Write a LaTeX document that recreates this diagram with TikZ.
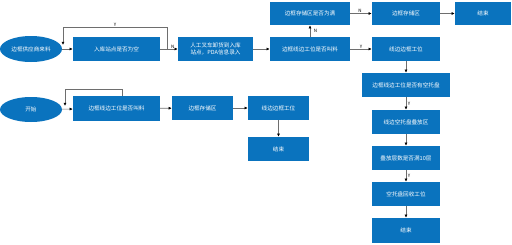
\documentclass[tikz,border=0pt]{standalone}
\usepackage{fontspec}
\setmainfont{Noto Sans CJK SC}
\usetikzlibrary{arrows.meta,shapes.geometric}
\definecolor{boxblue}{RGB}{10,115,190}
\definecolor{linegray}{RGB}{110,110,110}
\tikzset{
  box/.style={fill=boxblue,draw=none,text=white,font=\fontsize{5.6pt}{7pt}\selectfont,
    minimum height=24pt,inner sep=1pt,align=center},
  oval/.style={ellipse,fill=boxblue,draw=none,text=white,font=\fontsize{5.6pt}{7pt}\selectfont,
    minimum width=62pt,minimum height=26pt,inner sep=0pt},
  conn/.style={draw=linegray,line width=0.6pt,-{Latex[length=3.2pt,width=3pt,black]}},
  plain/.style={draw=linegray,line width=0.6pt},
  lbl/.style={font=\fontsize{4.5pt}{5pt}\selectfont,text=black,inner sep=0.5pt}
}
\begin{document}
\begin{tikzpicture}[x=1pt,y=-1pt]
\useasboundingbox (0,0) rectangle (512,244);
% row 1
\node[oval] (sup) at (31,49) {边框供应商来料};
\node[box,minimum width=87pt] (empty) at (116.5,49) {入库站点是否为空};
\node[box,minimum width=75pt] (unload) at (215.5,49) {人工叉车卸货到入库\\站点，PDA信息录入};
\node[box,minimum width=80pt] (call1) at (310,49) {边框线边工位是否叫料};
\node[box,minimum width=80pt,minimum height=23pt] (full) at (310,13.5) {边框存储区是否为满};
\node[box,minimum width=68pt,minimum height=23pt] (store1) at (406,13.5) {边框存储区};
\node[box,minimum width=56pt,minimum height=23pt] (end1) at (483,13.5) {结束};
\node[box,minimum width=68pt] (line1) at (406,49) {线边边框工位};
\node[box,minimum width=88pt] (pallet) at (406,85) {边框线边工位是否有空托盘};
\node[box,minimum width=68pt] (stack) at (406,122) {线边空托盘叠放区};
\node[box,minimum width=68pt] (ten) at (406,158) {叠放层数是否满10层};
\node[box,minimum width=68pt] (recyc) at (406,194) {空托盘回收工位};
\node[box,minimum width=68pt,minimum height=25pt] (end3) at (406,230.5) {结束};
% row 2
\node[oval,minimum height=25pt] (start) at (31,109.5) {开始};
\node[box,minimum width=87pt,minimum height=25pt] (call2) at (116.5,108.5) {边框线边工位是否叫料};
\node[box,minimum width=61pt] (store2) at (202.5,108) {边框存储区};
\node[box,minimum width=61pt] (line2) at (278.5,108) {线边边框工位};
\node[box,minimum width=61pt] (end2) at (278.5,149) {结束};
% coordinates for loops
\coordinate (br1) at (167,49);
\coordinate (lp1a) at (167,27);
\coordinate (lp1b) at (63,27);
\coordinate (lp1c) at (63,45);
\coordinate (lp2a) at (122,89);
\coordinate (lp2b) at (65,89);
\coordinate (lp2c) at (65,106);
% connectors row 1
\draw[conn] (sup) -- (empty);
\draw[conn] (empty) -- node[lbl,above,pos=0.72] {N} (unload);
\draw[plain] (br1) -- (lp1a) -- node[lbl,above] {Y} (lp1b);
\draw[conn] (lp1b) -- (lp1c);
\draw[conn] (unload) -- (call1);
\draw[conn] (call1) -- node[lbl,right,xshift=3pt] {N} (full);
\draw[conn] (full) -- node[lbl,above,pos=0.45] {N} (store1);
\draw[conn] (store1) -- (end1);
\draw[conn] (call1) -- node[lbl,above,pos=0.5] {Y} (line1);
\draw[conn] (line1) -- (pallet);
\draw[conn] (pallet) -- node[lbl,right,xshift=1pt] {Y} (stack);
\draw[conn] (stack) -- (ten);
\draw[conn] (ten) -- node[lbl,right,xshift=1pt] {Y} (recyc);
\draw[conn] (recyc) -- (end3);
% connectors row 2
\draw[conn] (start) -- (call2);
\draw[plain] (call2.north -| lp2a) -- (lp2a) -- (lp2b);
\draw[conn] (lp2b) -- (lp2c);
\draw[conn] (call2) -- (store2);
\draw[conn] (store2) -- (line2);
\draw[conn] (line2) -- (end2);
\end{tikzpicture}
\end{document}
